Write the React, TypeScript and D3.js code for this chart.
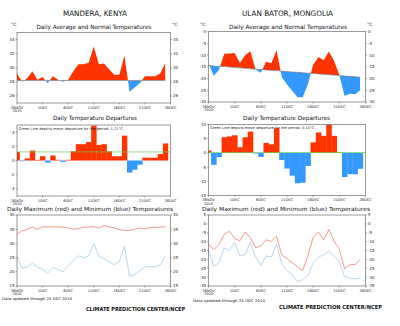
import React from 'react';
import * as d3 from 'd3';

const xTickDays = [0, 5, 10, 15, 20, 25, 30];
const xTickLabels = ['26NOV', '1DEC', '6DEC', '11DEC', '16DEC', '21DEC', '26DEC'];

// Mandera, Kenya
const manderaAvg = [29.2, 28.0, 28.5, 29.5, 28.3, 28.7, 27.8, 28.8, 28.3, 28.0, 28.3, 29.5, 30.5, 30.5, 30.7, 33.0, 30.5, 30.6, 29.8, 29.0, 29.0, 31.7, 26.6, 27.2, 27.8, 28.8, 28.8, 28.8, 29.2, 30.7];
const manderaNormal = [28.2, 28.2, 28.2, 28.2, 28.2, 28.2, 28.2, 28.2, 28.2, 28.2, 28.2, 28.2, 28.2, 28.2, 28.2, 28.2, 28.2, 28.2, 28.2, 28.2, 28.2, 28.2, 28.2, 28.2, 28.2, 28.2, 28.2, 28.2, 28.2, 28.2];
const manderaDep = [1.2, -0.1, 0.3, 1.4, 0.1, 0.6, -0.3, 0.7, 0.1, -0.2, 0.1, 1.3, 2.3, 2.3, 2.6, 4.9, 2.2, 2.3, 1.3, 0.6, 0.6, 3.5, -1.7, -1.3, -0.6, 0.4, 0.4, 0.4, 0.9, 2.4];
const manderaMeanDep = 1.21;
const manderaMax = [33.3, 34.4, 34.9, 35.7, 35.0, 35.9, 35.8, 35.8, 35.8, 35.7, 35.5, 35.0, 35.2, 35.7, 35.8, 35.9, 35.4, 36.3, 35.8, 35.5, 34.8, 34.6, 34.6, 35.0, 35.5, 35.0, 35.6, 35.6, 35.8, 35.9];
const manderaMin = [25.2, 21.3, 21.6, 23.1, 21.6, 21.0, 19.5, 21.5, 20.8, 20.1, 22.0, 24.0, 25.6, 25.0, 25.6, 30.0, 25.5, 24.6, 23.5, 22.5, 23.5, 29.0, 18.5, 19.0, 20.5, 21.7, 21.8, 21.8, 22.3, 25.5];

// Ulan Bator, Mongolia
const ulanAvg = [-13.5, -18.8, -16.3, -9.4, -9.3, -9.1, -13.4, -10.1, -8.3, -16.2, -17.5, -12.8, -13.5, -7.9, -19.3, -22.5, -25.2, -28.0, -28.0, -22.3, -14.1, -10.8, -12.2, -8.4, -12.5, -18.5, -27.4, -26.5, -26.7, -25.0];
const ulanNormal = [-14.4, -14.6, -14.8, -14.9, -15.1, -15.3, -15.4, -15.6, -15.8, -16.0, -16.1, -16.3, -16.5, -16.6, -16.8, -17.0, -17.2, -17.3, -17.5, -17.7, -17.8, -18.0, -18.2, -18.4, -18.5, -18.7, -18.9, -19.0, -19.2, -19.4];
const ulanDep = [0.9, -4.2, -1.5, 5.5, 5.8, 6.2, 2.0, 5.5, 7.5, -0.2, -1.4, 3.5, 3.0, 8.7, -2.5, -5.5, -8.0, -10.7, -10.5, -4.6, 3.7, 7.2, 6.0, 10.0, 6.0, 0.2, -8.5, -7.5, -7.5, -5.6];
const ulanMeanDep = 0.15;
const ulanMax = [-11.7, -14.5, -11.7, -6.0, -4.1, -8.3, -9.6, -4.5, -7.7, -13.4, -12.4, -9.0, -9.8, -6.9, -17.4, -19.6, -21.9, -24.2, -26.3, -17.7, -7.7, -4.5, -9.0, -3.2, -9.8, -14.3, -25.3, -23.0, -22.9, -20.0];
const ulanMin = [-14.9, -23.8, -21.9, -13.6, -14.9, -10.5, -18.1, -17.2, -10.5, -18.7, -23.4, -18.1, -18.7, -11.3, -22.7, -26.3, -28.6, -32.5, -31.4, -29.1, -21.9, -18.7, -17.4, -15.3, -18.1, -21.5, -29.7, -30.6, -31.0, -30.3];

const manderaTopTicks = [34, 32, 30, 28, 26];
const manderaMidTicks = [4, 2, 0, -2, -4];
const manderaBotTicks = [40, 35, 30, 25, 20, 15];
const ulanTopTicks = [0, -5, -10, -15, -20, -25, -30];
const ulanMidTicks = [10, 5, 0, -5, -10, -15];
const ulanBotTicks = [5, 0, -5, -10, -15, -20, -25, -30, -35];

const RED = '#ff3300';
const BLUE = '#3399ff';
const FONT = 'DejaVu Sans, sans-serif';
const FRAME = '#555';

type Box = { x0: number; x1: number; y0: number; y1: number; dom: [number, number] };

function Frame({ b, ticks, right, id }: { b: Box; ticks: number[]; right: boolean; id: string }) {
  const x = d3.scaleLinear().domain([0, 30]).range([b.x0, b.x1]);
  const y = d3.scaleLinear().domain(b.dom).range([b.y1, b.y0]);
  return (
    <g>
      <rect x={b.x0} y={b.y0} width={b.x1 - b.x0} height={b.y1 - b.y0} fill="none" stroke={FRAME} strokeWidth={0.6} />
      {ticks.map((t) => (
        <g key={id + 'y' + t}>
          <line x1={b.x0 - 1.5} x2={b.x0} y1={y(t)} y2={y(t)} stroke={FRAME} strokeWidth={0.5} />
          <text x={b.x0 - 2.5} y={y(t) + 1.4} fontSize={4} textAnchor="end" fontFamily={FONT} fill="#222">{t}</text>
          {right && <line x1={b.x1} x2={b.x1 + 1.5} y1={y(t)} y2={y(t)} stroke={FRAME} strokeWidth={0.5} />}
          {right && <text x={b.x1 + 2.5} y={y(t) + 1.4} fontSize={4} textAnchor="start" fontFamily={FONT} fill="#222">{t}</text>}
        </g>
      ))}
      {xTickDays.map((d, i) => (
        <g key={id + 'x' + d}>
          <line x1={x(d)} x2={x(d)} y1={b.y1} y2={b.y1 + 1.5} stroke={FRAME} strokeWidth={0.5} />
          <text x={x(d)} y={b.y1 + 5.5} fontSize={3.6} textAnchor="middle" fontFamily={FONT} fill="#222">{xTickLabels[i]}</text>
          {i === 0 && <text x={x(d)} y={b.y1 + 9.3} fontSize={3.6} textAnchor="middle" fontFamily={FONT} fill="#222">2010</text>}
        </g>
      ))}
    </g>
  );
}

function AvgPanel({ b, avg, normal, id }: { b: Box; avg: number[]; normal: number[]; id: string }) {
  const x = d3.scaleLinear().domain([0, 30]).range([b.x0, b.x1]);
  const y = d3.scaleLinear().domain(b.dom).range([b.y1, b.y0]);
  const area = d3.area<number>().x((_, i) => x(i)).y0((_, i) => y(normal[i])).y1((d) => y(d));
  const nline = d3.line<number>().x((_, i) => x(i)).y((d) => y(d));
  const n = normal.length - 1;
  const normPts = normal.map((v, i) => `${x(i)},${y(v)}`).join(' L');
  const above = `M${x(0)},${b.y0 - 5} L${normPts} L${x(n)},${b.y0 - 5} Z`;
  const below = `M${x(0)},${b.y1 + 5} L${normPts} L${x(n)},${b.y1 + 5} Z`;
  return (
    <g>
      <defs>
        <clipPath id={id + 'a'}><path d={above} /></clipPath>
        <clipPath id={id + 'b'}><path d={below} /></clipPath>
      </defs>
      <path d={area(avg) || ''} fill={RED} clipPath={`url(#${id}a)`} />
      <path d={area(avg) || ''} fill={BLUE} clipPath={`url(#${id}b)`} />
      <path d={nline(normal) || ''} fill="none" stroke="#666" strokeWidth={0.5} />
    </g>
  );
}

function DepPanel({ b, dep, mean, id }: { b: Box; dep: number[]; mean: number; id: string }) {
  const x = d3.scaleLinear().domain([0, 30]).range([b.x0, b.x1]);
  const y = d3.scaleLinear().domain(b.dom).range([b.y1, b.y0]);
  const w = x(1) - x(0);
  return (
    <g>
      <defs>
        <clipPath id={id + 'c'}><rect x={b.x0} y={b.y0} width={b.x1 - b.x0} height={b.y1 - b.y0} /></clipPath>
      </defs>
      <g clipPath={`url(#${id}c)`}>
        {dep.map((d, i) => (
          <rect key={i} x={x(i) - w / 2} width={w + 0.3} y={d >= 0 ? y(d) : y(0)} height={Math.abs(y(d) - y(0))} fill={d >= 0 ? RED : BLUE} />
        ))}
      </g>
      <line x1={b.x0} x2={b.x1} y1={y(mean)} y2={y(mean)} stroke="#66cc55" strokeWidth={0.7} />
      <text x={b.x0 + 1.5} y={b.y0 + 4.5} fontSize={3.6} fontFamily={FONT} fill="#222">
        {`Green Line depicts mean departure for the period: ${mean.toFixed(2)}°C`}
      </text>
    </g>
  );
}

function MaxMinPanel({ b, mx, mn }: { b: Box; mx: number[]; mn: number[] }) {
  const x = d3.scaleLinear().domain([0, 30]).range([b.x0, b.x1]);
  const y = d3.scaleLinear().domain(b.dom).range([b.y1, b.y0]);
  const line = d3.line<number>().x((_, i) => x(i)).y((d) => y(d));
  return (
    <g>
      <path d={line(mx) || ''} fill="none" stroke="#ee8070" strokeWidth={0.8} />
      <path d={line(mn) || ''} fill="none" stroke="#a8cce8" strokeWidth={0.8} />
    </g>
  );
}

function Txt({ x, y, s, size, len, bold }: { x: number; y: number; s: string; size: number; len?: number; bold?: boolean }) {
  return (
    <text x={x} y={y} fontSize={size} fontFamily={FONT} fill="#111" fontWeight={bold ? 'bold' : 'normal'}
      textLength={len} lengthAdjust={len ? 'spacingAndGlyphs' : undefined}>{s}</text>
  );
}

export default function App() {
  const L = { x0: 17, x1: 170.5 };
  const R = { x0: 208.5, x1: 365.5 };
  const lt: Box = { ...L, y0: 32.5, y1: 103, dom: [25, 35] };
  const lm: Box = { ...L, y0: 125, y1: 196, dom: [-5, 5] };
  const lb: Box = { ...L, y0: 215, y1: 286, dom: [15, 40] };
  const rt: Box = { ...R, y0: 31.7, y1: 102, dom: [-30, 0] };
  const rm: Box = { ...R, y0: 124.5, y1: 195.5, dom: [-15, 10] };
  const rb: Box = { ...R, y0: 215, y1: 286, dom: [-35, 5] };
  return (
    <svg width={400} height={326} style={{ position: 'absolute', left: 0, top: 0, background: '#fff' }}>
      <rect width={400} height={326} fill="#fff" />
      <Txt x={63} y={16} s="MANDERA, KENYA" size={7.5} len={64} />
      <Txt x={242} y={16} s="ULAN BATOR, MONGOLIA" size={7.5} len={91} />
      <Txt x={36.5} y={29} s="Daily Average and Normal Temperatures" size={5.8} len={115} />
      <Txt x={229} y={29} s="Daily Average and Normal Temperatures" size={5.8} len={118} />
      <Txt x={11} y={26} s="°C" size={4.5} />
      <Txt x={172} y={26} s="°C" size={4.5} />
      <Txt x={200} y={26} s="°C" size={4.5} />
      <Txt x={367} y={26} s="°C" size={4.5} />
      <Txt x={53} y={120} s="Daily Temperature Departures" size={5.8} len={84} />
      <Txt x={243} y={120} s="Daily Temperature Departures" size={5.8} len={87} />
      <Txt x={7} y={211} s="Daily Maximum (red) and Minimum (blue) Temperatures" size={5.6} len={166} />
      <Txt x={202} y={211} s="Daily Maximum (red) and Minimum (blue) Temperatures" size={5.6} len={168} />

      <AvgPanel b={lt} avg={manderaAvg} normal={manderaNormal} id="lt" />
      <Frame b={lt} ticks={manderaTopTicks} right={true} id="lt" />
      <AvgPanel b={rt} avg={ulanAvg} normal={ulanNormal} id="rt" />
      <Frame b={rt} ticks={ulanTopTicks} right={true} id="rt" />

      <DepPanel b={lm} dep={manderaDep} mean={manderaMeanDep} id="lm" />
      <Frame b={lm} ticks={manderaMidTicks} right={false} id="lm" />
      <DepPanel b={rm} dep={ulanDep} mean={ulanMeanDep} id="rm" />
      <Frame b={rm} ticks={ulanMidTicks} right={false} id="rm" />

      <MaxMinPanel b={lb} mx={manderaMax} mn={manderaMin} />
      <Frame b={lb} ticks={manderaBotTicks} right={true} id="lb" />
      <MaxMinPanel b={rb} mx={ulanMax} mn={ulanMin} />
      <Frame b={rb} ticks={ulanBotTicks} right={true} id="rb" />

      <Txt x={2} y={300} s="Data updated through 25 DEC 2010" size={3.6} len={70} />
      <Txt x={193} y={302} s="Data updated through 25 DEC 2010" size={3.6} len={72} />
      <Txt x={86} y={311} s="CLIMATE PREDICTION CENTER/NCEP" size={5.5} len={99} bold={true} />
      <Txt x={279} y={309} s="CLIMATE PREDICTION CENTER/NCEP" size={5.5} len={103} bold={true} />
    </svg>
  );
}
